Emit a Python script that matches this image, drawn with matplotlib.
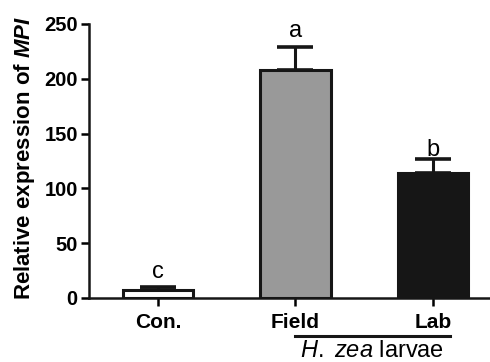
import matplotlib
matplotlib.use('Agg')
import matplotlib.pyplot as plt

plt.rcParams['font.family'] = ['Liberation Sans', 'DejaVu Sans']
plt.rcParams['mathtext.fontset'] = 'custom'
plt.rcParams['mathtext.rm'] = 'Liberation Sans'
plt.rcParams['mathtext.it'] = 'Liberation Sans:italic'
plt.rcParams['mathtext.bf'] = 'Liberation Sans:bold'
plt.rcParams['mathtext.bfit'] = 'Liberation Sans:bold:italic'

# 数据
groups = ['Con.', 'Field', 'Lab']
means = [7, 208, 114]
errs = [3, 21, 13]
letters = ['c', 'a', 'b']
letter_y = [18, 238, 130]
fills = ['white', '#999999', '#161616']
yticks = [0, 50, 100, 150, 200, 250]

fig = plt.figure(figsize=(4.9, 3.62), dpi=100)
ax = fig.add_axes([0.1816, 0.1768, 0.8184, 0.757])

x = range(len(groups))
ax.bar(x, means, width=0.51, color=fills, edgecolor='#161616', linewidth=2.2, zorder=2)
ax.errorbar(x, means, yerr=[[0] * len(errs), errs], fmt='none', ecolor='#161616',
            elinewidth=2.2, capsize=13, capthick=2.6, zorder=1)

for i, (t, yy) in enumerate(zip(letters, letter_y)):
    ax.text(i, yy, t, ha='center', va='baseline', fontsize=17)

ax.set_xlim(-0.502, 2.415)
ax.set_ylim(0, 250)
ax.set_yticks(yticks)
ax.set_xticks(list(x))
ax.set_xticklabels(groups, fontweight='bold', fontsize=15)
ax.tick_params(axis='y', labelsize=14.5, width=1.8, length=6, direction='out', pad=2)
ax.tick_params(axis='x', width=1.8, length=6, direction='out', pad=5)
for lbl in ax.get_yticklabels():
    lbl.set_fontweight('bold')

ax.spines['top'].set_visible(False)
ax.spines['right'].set_visible(False)
ax.spines['left'].set_linewidth(1.8)
ax.spines['bottom'].set_linewidth(1.8)
ax.spines['left'].set_color('#161616')
ax.spines['bottom'].set_color('#161616')

ax.set_ylabel(r'Relative expression of $\mathbfit{MPI}$', fontweight='bold', fontsize=16)
ax.yaxis.set_label_coords(-0.13, 0.511)

# H. zea larvae 标注
fig.add_artist(plt.Line2D([295 / 490, 450 / 490], [1 - 336 / 362, 1 - 336 / 362],
                          color='#161616', linewidth=2.2))
fig.text(372 / 490, 1 - 351 / 362, r'$\mathit{H.}$ $\mathit{zea}$ larvae', ha='center', va='center', fontsize=17)

plt.savefig('out.png', dpi=100)
